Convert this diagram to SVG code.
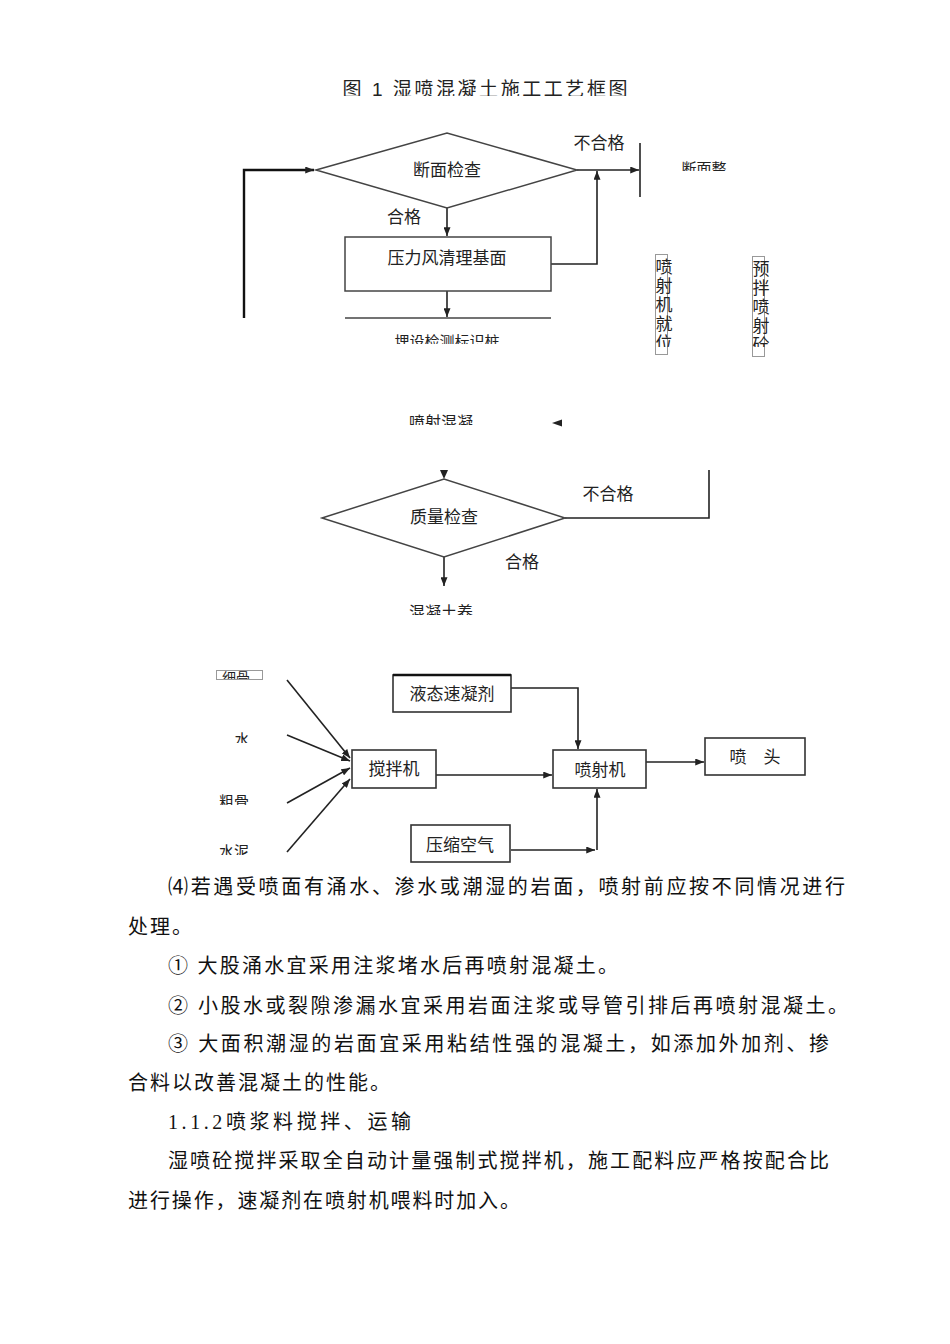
<svg xmlns="http://www.w3.org/2000/svg" width="950" height="1344" viewBox="0 0 950 1344">
<style>
  .bg{fill:#ffffff}
  .t{font-family:"Liberation Sans","Noto Sans CJK SC",sans-serif;fill:#222;text-anchor:middle;dominant-baseline:central}
  .s{font-family:"Liberation Serif","Noto Sans CJK SC",serif;fill:#222;text-anchor:middle;dominant-baseline:central}
  .body{font-family:"Liberation Serif","Noto Sans CJK SC",serif;fill:#111;font-size:20px}
  .shape{fill:#fff;stroke:#444;stroke-width:1.5}
  .box2{fill:#fff;stroke:#333;stroke-width:1.6}
  .thin{fill:none;stroke:#999;stroke-width:1}
  .ln{fill:none;stroke:#222;stroke-width:1.6}
  .ah{fill:#222}
</style>
<defs>
  <marker id="arr" viewBox="0 0 10 8" refX="10" refY="4" markerWidth="9" markerHeight="7" markerUnits="userSpaceOnUse" orient="auto">
    <path d="M0,0 L10,4 L0,8 Z" fill="#222"/>
  </marker>
  <clipPath id="cTitle"><rect x="330" y="70" width="310" height="26"/></clipPath>
  <clipPath id="cDm"><rect x="670" y="155" width="70" height="16"/></clipPath>
  <clipPath id="cMs"><rect x="380" y="325" width="140" height="19"/></clipPath>
  <clipPath id="cV1"><rect x="650" y="250" width="30" height="97"/></clipPath>
  <clipPath id="cV2"><rect x="748" y="250" width="30" height="97"/></clipPath>
  <clipPath id="cPs"><rect x="400" y="405" width="90" height="20"/></clipPath>
  <clipPath id="cYh"><rect x="400" y="598" width="90" height="17"/></clipPath>
  <clipPath id="cXg"><rect x="217" y="671" width="45" height="8"/></clipPath>
  <clipPath id="cSh"><rect x="225" y="725" width="40" height="18"/></clipPath>
  <clipPath id="cCg"><rect x="210" y="790" width="50" height="15"/></clipPath>
  <clipPath id="cSn"><rect x="210" y="840" width="50" height="15"/></clipPath>
</defs>
<rect class="bg" x="0" y="0" width="950" height="1344"/>

<g id="title">
  <text class="t" x="485" y="89.5" font-size="19" textLength="285" clip-path="url(#cTitle)">图 1 湿喷混凝土施工工艺框图</text>
</g>

<g id="connectors">
  <path d="M244,318 L244,170 L314,170" fill="none" stroke="#111" stroke-width="2.4" marker-end="url(#arr)"/>
  <path class="ln" d="M447,208 L447,236" marker-end="url(#arr)"/>
  <path class="ln" d="M577,170 L639,170" marker-end="url(#arr)"/>
  <path class="ln" d="M551,264 L597,264 L597,171" marker-end="url(#arr)"/>
  <path class="ln" d="M447,291 L447,317" marker-end="url(#arr)"/>
  <path class="ah" d="M552,423 L562,419.5 L562,426.5 Z"/>
  <path class="ah" d="M440,470 L448,470 L444,479 Z"/>
  <path class="ln" d="M565,518 L709,518 L709,470"/>
  <path class="ln" d="M444,557 L444,586" marker-end="url(#arr)"/>
  <path class="ln" d="M287,680 L350,758" marker-end="url(#arr)"/>
  <path class="ln" d="M287,735 L350,761" marker-end="url(#arr)"/>
  <path class="ln" d="M287,803 L350,768" marker-end="url(#arr)"/>
  <path class="ln" d="M287,852 L350,779" marker-end="url(#arr)"/>
  <path class="ln" d="M511,688 L578,688 L578,749" marker-end="url(#arr)"/>
  <path class="ln" d="M436,775 L552,775" marker-end="url(#arr)"/>
  <path class="ln" d="M646,762 L704,762" marker-end="url(#arr)"/>
  <path class="ln" d="M511,850 L595,850" marker-end="url(#arr)"/>
  <path class="ln" d="M597,850 L597,789" marker-end="url(#arr)"/>
</g>

<g id="node-duanmianjiancha">
  <polygon class="shape" points="316,170 447,133 577,170 447,208"/>
  <text class="t" x="447" y="170" font-size="17">断面检查</text>
</g>
<g id="label-buhege1"><text class="t" x="599" y="143" font-size="17">不合格</text></g>
<g id="label-hege1"><text class="t" x="404" y="217" font-size="17">合格</text></g>
<g id="node-duanmianzheng">
  <line x1="640" y1="143" x2="640" y2="197" stroke="#222" stroke-width="1.6"/>
  <text class="t" x="704" y="168" font-size="15" clip-path="url(#cDm)">断面整</text>
</g>
<g id="node-yalifeng">
  <rect class="shape" x="345" y="237" width="206" height="54"/>
  <text class="t" x="447" y="258" font-size="17">压力风清理基面</text>
</g>
<g id="node-maishe">
  <line x1="345" y1="318" x2="551" y2="318" stroke="#444" stroke-width="1.5"/>
  <text class="t" x="447" y="341" font-size="15" clip-path="url(#cMs)">埋设检测标识桩</text>
</g>
<g id="node-penshejijiuwei">
  <rect class="thin" x="655.5" y="254.5" width="12" height="100"/>
  <g clip-path="url(#cV1)">
    <text class="t" x="664" y="267" font-size="17">喷</text>
    <text class="t" x="664" y="286" font-size="17">射</text>
    <text class="t" x="664" y="305" font-size="17">机</text>
    <text class="t" x="664" y="324" font-size="17">就</text>
    <text class="t" x="664" y="343" font-size="17">位</text>
  </g>
</g>
<g id="node-yuban">
  <rect class="thin" x="752.5" y="256.5" width="12" height="100"/>
  <g clip-path="url(#cV2)">
    <text class="t" x="761" y="269" font-size="17">预</text>
    <text class="t" x="761" y="288" font-size="17">拌</text>
    <text class="t" x="761" y="307" font-size="17">喷</text>
    <text class="t" x="761" y="326" font-size="17">射</text>
    <text class="t" x="761" y="345" font-size="17">砼</text>
  </g>
</g>
<g id="node-penshehunning">
  <text class="t" x="441" y="422" font-size="16" clip-path="url(#cPs)">喷射混凝</text>
</g>
<g id="node-zhiliangjiancha">
  <polygon class="shape" points="322,518 444,479 565,518 444,557"/>
  <text class="t" x="444" y="517" font-size="17">质量检查</text>
</g>
<g id="label-buhege2"><text class="t" x="608" y="494" font-size="17">不合格</text></g>
<g id="label-hege2"><text class="t" x="522" y="562" font-size="17">合格</text></g>
<g id="node-yanghu">
  <text class="t" x="441" y="612" font-size="16" clip-path="url(#cYh)">混凝土养</text>
</g>

<g id="node-xigu">
  <rect class="thin" x="216.5" y="670.5" width="46" height="9"/>
  <text class="s" x="236" y="678" font-size="14" clip-path="url(#cXg)">细骨</text>
</g>
<g id="node-shui"><text class="s" x="242" y="740" font-size="15" clip-path="url(#cSh)">水</text></g>
<g id="node-cugu"><text class="s" x="234" y="802" font-size="15" clip-path="url(#cCg)">粗骨</text></g>
<g id="node-shuini"><text class="s" x="234" y="852" font-size="15" clip-path="url(#cSn)">水泥</text></g>
<g id="node-jiaobanji">
  <rect class="box2" x="352" y="750" width="84" height="38"/>
  <text class="s" x="394" y="769" font-size="17">搅拌机</text>
</g>
<g id="node-suningji">
  <rect class="box2" x="393" y="675" width="118" height="37"/>
  <line x1="393" y1="675" x2="511" y2="675" stroke="#111" stroke-width="2.4"/>
  <text class="s" x="452" y="694" font-size="17">液态速凝剂</text>
</g>
<g id="node-penshejii">
  <rect class="box2" x="553" y="750" width="93" height="38"/>
  <text class="s" x="600" y="770" font-size="17">喷射机</text>
</g>
<g id="node-pentou">
  <rect class="box2" x="705" y="738" width="100" height="37"/>
  <text class="s" x="755" y="757" font-size="17">喷　头</text>
</g>
<g id="node-yasuokongqi">
  <rect class="box2" x="411" y="825" width="99" height="37"/>
  <text class="s" x="460" y="845" font-size="17">压缩空气</text>
</g>

<g id="body-text">
  <text class="body" x="168" y="894" textLength="677">⑷若遇受喷面有涌水、渗水或潮湿的岩面，喷射前应按不同情况进行</text>
  <text class="body" x="128" y="934" textLength="64">处理。</text>
  <text class="body" x="168" y="973" textLength="450">① 大股涌水宜采用注浆堵水后再喷射混凝土。</text>
  <text class="body" x="168" y="1013" textLength="680">② 小股水或裂隙渗漏水宜采用岩面注浆或导管引排后再喷射混凝土。</text>
  <text class="body" x="168" y="1051" textLength="661">③ 大面积潮湿的岩面宜采用粘结性强的混凝土，如添加外加剂、掺</text>
  <text class="body" x="128" y="1090" textLength="262">合料以改善混凝土的性能。</text>
  <text class="body" x="168" y="1129" textLength="243">1.1.2喷浆料搅拌、运输</text>
  <text class="body" x="168" y="1168" textLength="661">湿喷砼搅拌采取全自动计量强制式搅拌机，施工配料应严格按配合比</text>
  <text class="body" x="128" y="1208" textLength="392">进行操作，速凝剂在喷射机喂料时加入。</text>
</g>
</svg>
